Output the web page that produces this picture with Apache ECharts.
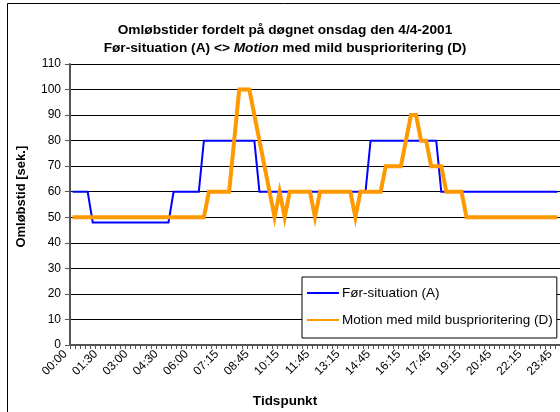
<!DOCTYPE html>
<html>
<head>
<meta charset="utf-8">
<script src="https://cdn.jsdelivr.net/npm/echarts@6/dist/echarts.min.js"></script>
<style>
html,body{margin:0;padding:0;background:#fff;}
#chart{width:560px;height:412px;}
</style>
</head>
<body>
<div id="chart"></div>
<script>
// Categories (time of day, one per quarter; one extra reading before 07:15)
const categories = [
  '00:00','00:15','00:30','00:45','01:00','01:15','01:30','01:45','02:00','02:15','02:30','02:45',
  '03:00','03:15','03:30','03:45','04:00','04:15','04:30','04:45','05:00','05:15','05:30','05:45',
  '06:00','06:15','06:30','06:45','07:00','07:05','07:15','07:30','07:45','08:00','08:15','08:30',
  '08:45','09:00','09:15','09:30','09:45','10:00','10:15','10:30','10:45','11:00','11:15','11:30',
  '11:45','12:00','12:15','12:30','12:45','13:00','13:15','13:30','13:45','14:00','14:15','14:30',
  '14:45','15:00','15:15','15:30','15:45','16:00','16:15','16:30','16:45','17:00','17:15','17:30',
  '17:45','18:00','18:15','18:30','18:45','19:00','19:15','19:30','19:45','20:00','20:15','20:30',
  '20:45','21:00','21:15','21:30','21:45','22:00','22:15','22:30','22:45','23:00','23:15','23:30',
  '23:45'
];

// Før-situation (A)
const seriesA = [
  60,60,60,60,48,48,48,48,48,48,48,48,
  48,48,48,48,48,48,48,48,60,60,60,60,
  60,60,80,80,80,80,80,80,80,80,80,80,
  80,60,60,60,60,60,60,60,60,60,60,60,
  60,60,60,60,60,60,60,60,60,60,60,80,
  80,80,80,80,80,80,80,80,80,80,80,80,
  80,60,60,60,60,60,60,60,60,60,60,60,
  60,60,60,60,60,60,60,60,60,60,60,60,
  60
];

// Motion med mild busprioritering (D)
const seriesD = [
  50,50,50,50,50,50,50,50,50,50,50,50,
  50,50,50,50,50,50,50,50,50,50,50,50,
  50,50,50,60,60,60,60,60,80,100,100,100,
  90,80,70,60,50,60,50,60,60,60,60,60,
  50,60,60,60,60,60,60,60,50,60,60,60,
  60,60,70,70,70,70,80,90,90,80,80,70,
  70,70,60,60,60,60,50,50,50,50,50,50,
  50,50,50,50,50,50,50,50,50,50,50,50,
  50
];

const seriesNames = ['Før-situation (A)', 'Motion med mild busprioritering (D)'];
const yMin = 0, yMax = 110, yStep = 10;

const FONT = "'Liberation Sans', Arial, sans-serif";

const chart = echarts.init(document.getElementById('chart'), null, {renderer: 'canvas'});

chart.setOption({
  animation: false,
  backgroundColor: '#fff',
  title: {
    left: 280,
    top: 16,
    textAlign: 'center',
    text: '{b|Omløbstider fordelt på døgnet onsdag den 4/4-2001}\n{b|Før-situation (A) <> }{i|Motion}{b| med mild busprioritering (D)}',
    textStyle: {
      rich: {
        b: {fontFamily: FONT, fontSize: 13.7, fontWeight: 'bold', color: '#000', lineHeight: 18},
        i: {fontFamily: FONT, fontSize: 13.7, fontWeight: 'bold', fontStyle: 'italic', color: '#000', lineHeight: 18}
      }
    }
  },
  grid: {left: 70, top: 64, right: -1, bottom: 67, containLabel: false},
  legend: {
    orient: 'vertical',
    left: 302,
    top: 277,
    padding: [9, 4, 11, 4],
    itemGap: 13,
    itemWidth: 32,
    itemHeight: 14,
    backgroundColor: '#fff',
    borderColor: '#000',
    borderWidth: 1,
    borderRadius: 0,
    itemStyle: {opacity: 0},
    data: seriesNames,
    textStyle: {fontFamily: FONT, fontSize: 13.5, color: '#000', padding: [0, 0, 0, -2]}
  },
  xAxis: {
    type: 'category',
    data: categories,
    boundaryGap: true,
    axisLine: {show: true, onZero: false, lineStyle: {color: '#555', width: 2}},
    axisTick: {show: true, interval: 0, length: 4, lineStyle: {color: '#555', width: 1}},
    axisLabel: {
      interval: 5,
      rotate: 45,
      margin: 0,
      padding: [0, 10, 0, 0],
      fontFamily: FONT,
      fontSize: 12,
      color: '#000'
    },
    splitLine: {show: false}
  },
  yAxis: {
    type: 'value',
    min: yMin,
    max: yMax,
    interval: yStep,
    axisLine: {show: true, lineStyle: {color: '#555', width: 2}},
    axisTick: {show: true, length: 5, lineStyle: {color: '#555', width: 1}},
    axisLabel: {margin: 9, fontFamily: FONT, fontSize: 12, color: '#000'},
    splitLine: {show: true, lineStyle: {color: '#000', width: 1}}
  },
  series: [
    {
      name: seriesNames[0],
      type: 'line',
      data: seriesA,
      symbol: 'none',
      showSymbol: false,
      color: '#0000FF',
      lineStyle: {color: '#0000FF', width: 2, join: 'miter'},
      z: 2
    },
    {
      name: seriesNames[1],
      type: 'line',
      data: seriesD,
      symbol: 'none',
      showSymbol: false,
      color: '#FF9900',
      lineStyle: {color: '#FF9900', width: 4, join: 'miter'},
      z: 3
    }
  ],
  graphic: [
    {type: 'line', shape: {x1: 7.5, y1: 3.5, x2: 560, y2: 3.5}, style: {stroke: '#000', lineWidth: 1}, silent: true},
    {type: 'line', shape: {x1: 7.5, y1: 3.5, x2: 7.5, y2: 412}, style: {stroke: '#000', lineWidth: 1}, silent: true},
    {
      type: 'text', x: 21.7, y: 196.7, rotation: Math.PI / 2,
      style: {text: 'Omløbstid [sek.]', fontFamily: FONT, fontSize: 13, fontWeight: 'bold', fill: '#000', align: 'center', verticalAlign: 'middle'}
    },
    {
      type: 'text', x: 285, y: 401.5,
      style: {text: 'Tidspunkt', fontFamily: FONT, fontSize: 13.5, fontWeight: 'bold', fill: '#000', align: 'center', verticalAlign: 'middle'}
    }
  ]
});
</script>
</body>
</html>
